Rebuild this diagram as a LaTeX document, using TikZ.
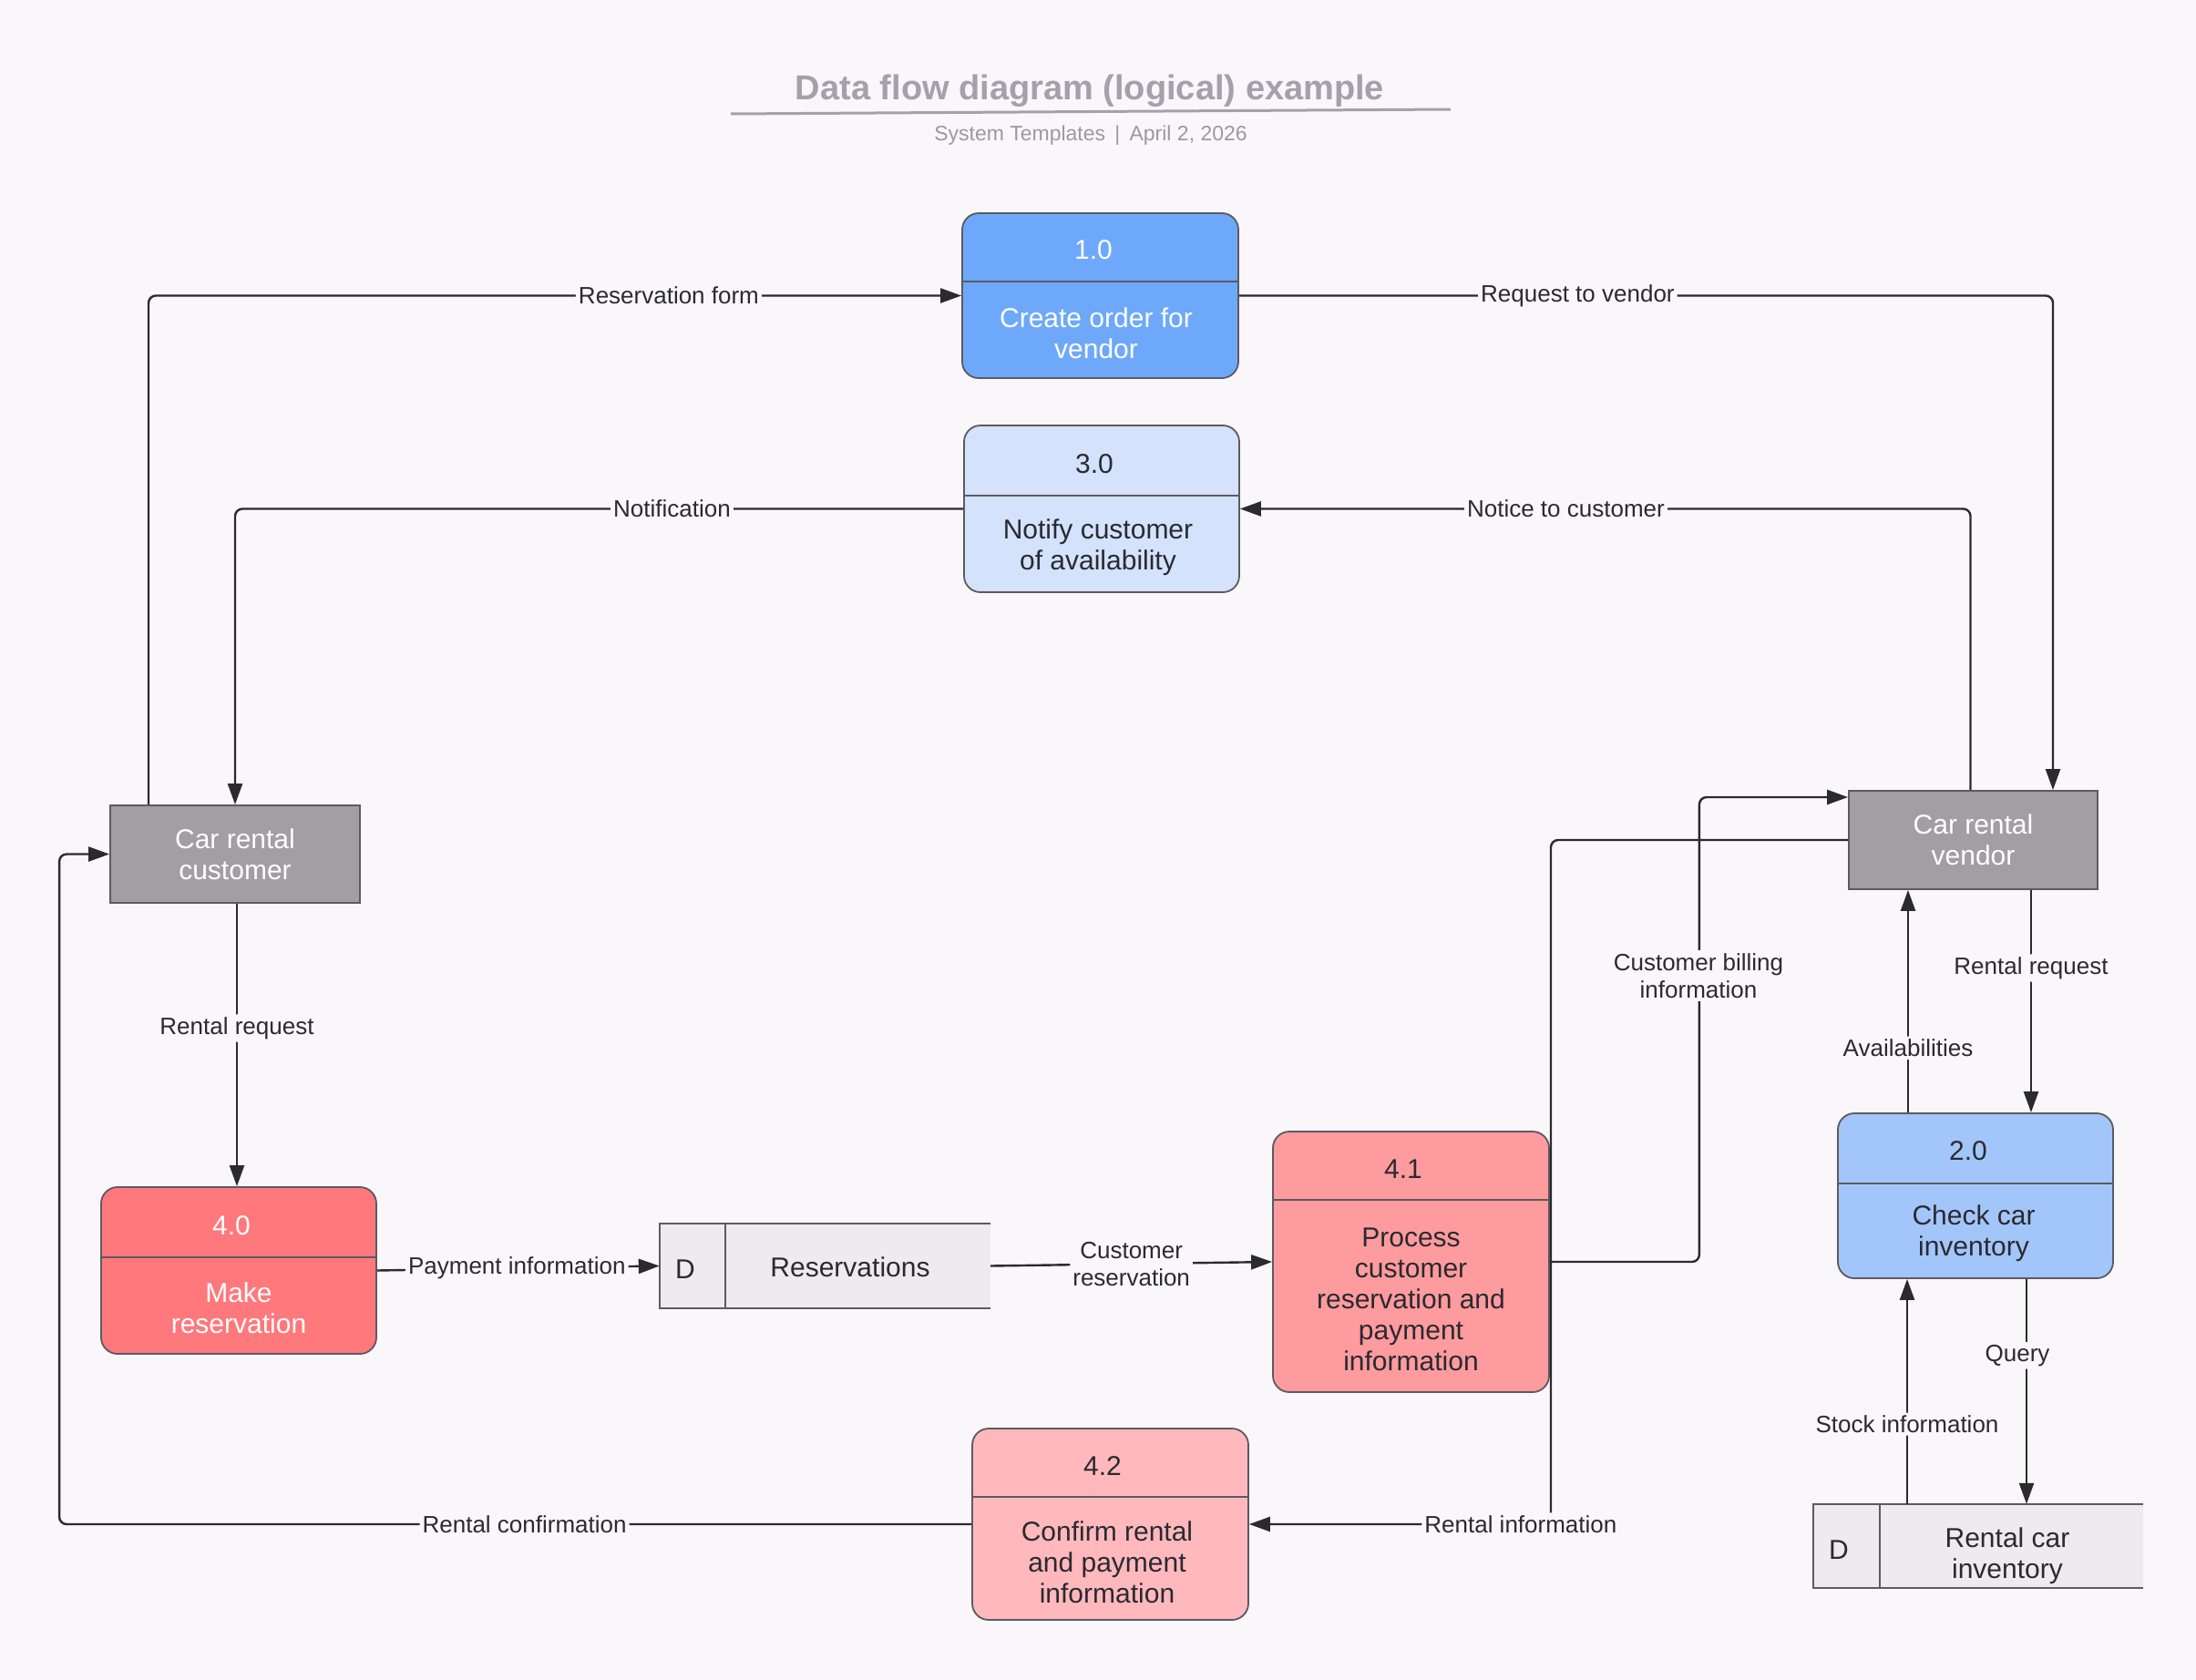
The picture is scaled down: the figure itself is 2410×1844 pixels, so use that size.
\documentclass[tikz,border=0pt]{standalone}
\usepackage{fontspec}
\setmainfont{Liberation Sans}
\usetikzlibrary{arrows.meta,calc}
\definecolor{bgc}{HTML}{F9F7FA}
\definecolor{bordc}{HTML}{5C5A62}
\definecolor{txtc}{HTML}{2A2A30}
\definecolor{linec}{HTML}{2B2A2E}
\definecolor{titc}{HTML}{A3A1AB}
\definecolor{extc}{HTML}{A19EA4}
\definecolor{storec}{HTML}{EEEAEE}
\definecolor{cOne}{HTML}{6EA8FA}
\definecolor{cThree}{HTML}{D4E2FC}
\definecolor{cTwo}{HTML}{A3C6FA}
\definecolor{cFourA}{HTML}{FF787B}
\definecolor{cFourB}{HTML}{FE9B9E}
\definecolor{cFourC}{HTML}{FFB9BD}
\newcommand{\fntNode}{\fontsize{30}{34}\selectfont}
\newcommand{\fntLbl}{\fontsize{26}{30}\selectfont}
\tikzset{
  proc/.style={draw=bordc, line width=1.8pt, rounded corners=18pt, inner sep=0pt, rectangle},
  extbox/.style={draw=bordc, line width=1.8pt, fill=extc, inner sep=0pt, rectangle, text=white, font=\fntNode, align=center},
  divl/.style={draw=bordc, line width=1.5pt},
  ntxt/.style={font=\fntNode, text=txtc, align=center, inner sep=0pt},
  flow/.style={draw=linec, line width=2.4pt, rounded corners=8pt, -{Triangle[length=23pt,width=16pt]}},
  lbl/.style={fill=bgc, inner sep=3pt, font=\fntLbl, text=txtc, align=center},
}
\begin{document}
\begin{tikzpicture}[x=1pt,y=-1pt]
\fill[bgc] (0,0) rectangle (2410,1844);
\useasboundingbox (0,0) rectangle (2410,1844);

% title
\node[font=\bfseries\fontsize{38}{44}\selectfont, text=titc] (title) at (1196,100) {Data flow diagram (logical) example};
\draw[titc, line width=3pt] (802,125) -- (1592,120);
\node[font=\fontsize{23}{27}\selectfont, text=titc!95!black] (sub) at (1197,149) {System Templates \,\textbar\, April 2, 2026};

% process 1.0
\node[proc, fill=cOne, minimum width=303pt, minimum height=181pt] (p1) at (1207.5,324.5) {};
\draw[divl] (p1.west |- 0,309) -- (p1.east |- 0,309);
\node[ntxt, text=white] (p1n) at (1200,274) {1.0};
\node[ntxt, text=white] (p1b) at (1203,366) {Create order for\\vendor};

% process 3.0
\node[proc, fill=cThree, minimum width=302pt, minimum height=183pt] (p3) at (1209,558.5) {};
\draw[divl] (p3.west |- 0,544) -- (p3.east |- 0,544);
\node[ntxt] (p3n) at (1201,509) {3.0};
\node[ntxt] (p3b) at (1205,601) {Notify customer\\of availability};

% externals
\node[extbox, minimum width=274pt, minimum height=107pt] (cust) at (258,937.5) {Car rental\\customer};
\node[extbox, minimum width=273pt, minimum height=108pt] (vend) at (2165.5,922) {Car rental\\vendor};

% process 4.0
\node[proc, fill=cFourA, minimum width=302pt, minimum height=183pt] (p40) at (262,1394.5) {};
\draw[divl] (p40.west |- 0,1380) -- (p40.east |- 0,1380);
\node[ntxt, text=white] (p40n) at (254,1345) {4.0};
\node[ntxt, text=white] (p40b) at (262,1436) {Make\\reservation};

% data store Reservations
\node[minimum width=363pt, minimum height=93pt, inner sep=0pt, fill=storec] (res) at (905.5,1389.5) {};
\draw[divl] (res.north east) -- (res.north west) -- (res.south west) -- (res.south east);
\draw[divl] (796,1343) -- (796,1436);
\node[ntxt] (resd) at (752,1393) {D};
\node[ntxt] (rest) at (933,1391) {Reservations};

% process 4.1
\node[proc, fill=cFourB, minimum width=303pt, minimum height=286pt] (p41) at (1548.5,1385) {};
\draw[divl] (p41.west |- 0,1317) -- (p41.east |- 0,1317);
\node[ntxt] (p41n) at (1540,1283) {4.1};
\node[ntxt] (p41b) at (1548.5,1426) {Process\\customer\\reservation and\\payment\\information};

% process 2.0
\node[proc, fill=cTwo, minimum width=302pt, minimum height=181pt] (p20) at (2168,1312.5) {};
\draw[divl] (p20.west |- 0,1299) -- (p20.east |- 0,1299);
\node[ntxt] (p20n) at (2160,1263) {2.0};
\node[ntxt] (p20b) at (2166,1354) {Check car\\inventory};

% process 4.2
\node[proc, fill=cFourC, minimum width=303pt, minimum height=210pt] (p42) at (1218.5,1673) {};
\draw[divl] (p42.west |- 0,1643) -- (p42.east |- 0,1643);
\node[ntxt] (p42n) at (1210,1609) {4.2};
\node[ntxt] (p42b) at (1215,1715) {Confirm rental\\and payment\\information};

% data store Rental car inventory
\node[minimum width=362pt, minimum height=92pt, inner sep=0pt, fill=storec] (inv) at (2171,1697) {};
\draw[divl] (inv.north east) -- (inv.north west) -- (inv.south west) -- (inv.south east);
\draw[divl] (2063,1651) -- (2063,1743);
\node[ntxt] (invd) at (2018,1701) {D};
\node[ntxt] (invt) at (2203,1708) {Rental car\\inventory};

% flows
\draw[flow] ([xshift=-95pt]cust.north) |- node[lbl, pos=0.82] {Reservation form} (p1.west);
\draw[flow] (p1.east) -| node[lbl, pos=0.208] {Request to vendor} ([xshift=87.5pt]vend.north);
\draw[flow] ([xshift=-3pt]vend.north) |- node[lbl, pos=0.777] {Notice to customer} (p3.east);
\draw[flow] (p3.west) -| node[lbl, pos=0.2] {Notification} (cust.north);
\draw[flow] ([xshift=2pt]cust.south) -- node[lbl, pos=0.44] {Rental request} ([xshift=-2pt]p40.north);
\draw[flow] (p40.east) -- node[lbl, pos=0.495] {Payment information} (res.west);
\draw[flow] (res.east) -- node[lbl, pos=0.5] {Customer\\reservation} (p41.west);
\draw[flow] (p41.east) -- ++(164pt,0pt) coordinate (cb) |- ([yshift=47pt]vend.west);
\node[lbl] (cbl) at (1864,1071) {Customer billing\\information};
\draw[flow] (vend.west) -| (1702,1673) -- node[lbl, pos=0.1] {Rental information} (p42.east);
\draw[flow] (p42.west) -| node[lbl, pos=0.245] {Rental confirmation} ([xshift=-55pt]cust.west) -- (cust.west);
\draw[flow] ([xshift=-74pt]p20.north) -- node[lbl, pos=0.29] {Availabilities} ([xshift=-74pt]p20.north |- vend.south);
\draw[flow] ([xshift=63.5pt]vend.south) -- node[lbl, pos=0.35] {Rental request} ([xshift=63.5pt]vend.south |- p20.north);
\draw[flow] ([xshift=56pt]p20.south) -- node[lbl, pos=0.34, xshift=-10pt] {Query} ([xshift=56pt]p20.south |- inv.north);
\draw[flow] ([xshift=-75pt]p20.south |- inv.north) -- node[lbl, pos=0.355] {Stock information} ([xshift=-75pt]p20.south);
\end{tikzpicture}
\end{document}
